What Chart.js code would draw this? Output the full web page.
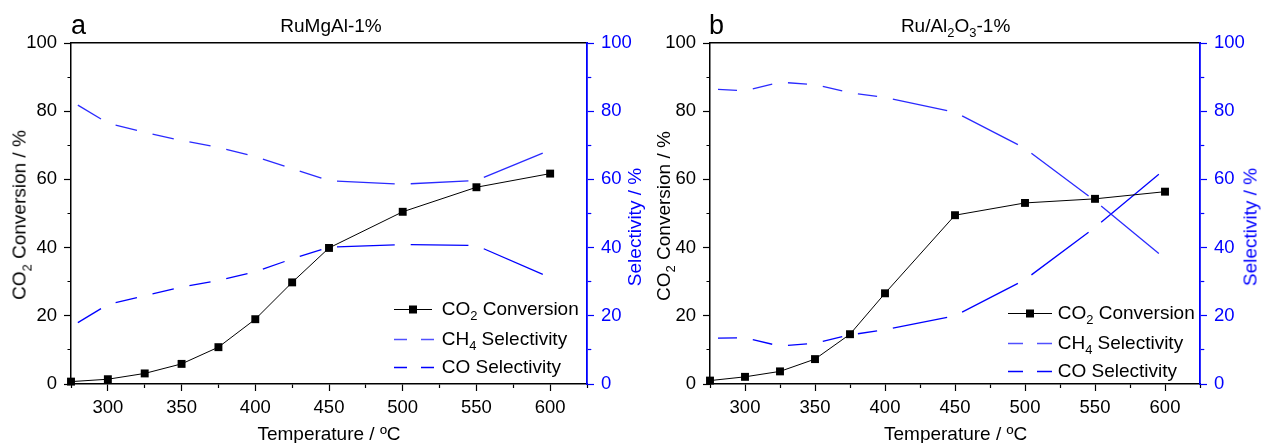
<!DOCTYPE html>
<html>
<head>
<meta charset="utf-8">
<script src="https://cdn.jsdelivr.net/npm/chart.js@4/dist/chart.umd.min.js"></script>
<style>
body { margin: 0; background: #fff; width: 1261px; height: 443px; overflow: hidden; position: relative;
       font-family: "Liberation Sans", Arial, sans-serif; }
canvas { position: absolute; top: 0; }
.t { position: absolute; white-space: nowrap; line-height: 1; color: #000; font-size: 19px; }
.c { transform: translate(-50%, -50%); }
.r { transform: translate(-50%, -50%) rotate(-90deg); }
.l { transform: translateY(-50%); }
.blue { color: #0000ff; }
sub { font-size: 0.68em; vertical-align: -0.45em; line-height: 0; }
</style>
</head>
<body>
<canvas id="chartA" width="660" height="443" style="left:0"></canvas>
<canvas id="chartB" width="631" height="443" style="left:630px"></canvas>

<!-- panel a texts -->
<div class="t" style="left:71px;top:12px;font-size:27px">a</div>
<div class="t c" style="left:331px;top:25px">RuMgAl-1%</div>
<div class="t r" style="left:19px;top:215px">CO<sub>2</sub> Conversion / %</div>
<div class="t r blue" style="left:634px;top:227px">Selectivity / %</div>
<div class="t c" style="left:329px;top:433px">Temperature / &ordm;C</div>
<div class="t l" style="left:394px;top:308px"><svg width="38" height="10"><line x1="0" y1="5" x2="38" y2="5" stroke="#000" stroke-width="1"/><rect x="15" y="1" width="8" height="8" fill="#000"/></svg></div>
<div class="t l" style="left:441.7px;top:308px">CO<sub>2</sub> Conversion</div>
<div class="t l" style="left:394px;top:338px"><svg width="40" height="10"><line x1="0" y1="5" x2="13" y2="5" stroke="#5050ff" stroke-width="1.3"/><line x1="27" y1="5" x2="40" y2="5" stroke="#5050ff" stroke-width="1.3"/></svg></div>
<div class="t l" style="left:441.7px;top:338px">CH<sub>4</sub> Selectivity</div>
<div class="t l" style="left:394px;top:366px"><svg width="40" height="10"><line x1="0" y1="5" x2="13" y2="5" stroke="#0000ff" stroke-width="1.3"/><line x1="27" y1="5" x2="40" y2="5" stroke="#0000ff" stroke-width="1.3"/></svg></div>
<div class="t l" style="left:441.7px;top:366px">CO Selectivity</div>

<!-- panel b texts -->
<div class="t" style="left:709px;top:12px;font-size:27px">b</div>
<div class="t c" style="left:955.6px;top:25px">Ru/Al<sub>2</sub>O<sub>3</sub>-1%</div>
<div class="t r" style="left:663px;top:216px">CO<sub>2</sub> Conversion / %</div>
<div class="t r blue" style="left:1250px;top:227px">Selectivity / %</div>
<div class="t c" style="left:955.6px;top:433px">Temperature / &ordm;C</div>
<div class="t l" style="left:1008px;top:312px"><svg width="44" height="10"><line x1="0" y1="5" x2="44" y2="5" stroke="#000" stroke-width="1"/><rect x="18" y="1" width="8" height="8" fill="#000"/></svg></div>
<div class="t l" style="left:1057.7px;top:312px">CO<sub>2</sub> Conversion</div>
<div class="t l" style="left:1008px;top:342px"><svg width="44" height="10"><line x1="0" y1="5" x2="15" y2="5" stroke="#5050ff" stroke-width="1.3"/><line x1="29" y1="5" x2="44" y2="5" stroke="#5050ff" stroke-width="1.3"/></svg></div>
<div class="t l" style="left:1057.7px;top:342px">CH<sub>4</sub> Selectivity</div>
<div class="t l" style="left:1008px;top:370px"><svg width="44" height="10"><line x1="0" y1="5" x2="15" y2="5" stroke="#0000ff" stroke-width="1.3"/><line x1="29" y1="5" x2="44" y2="5" stroke="#0000ff" stroke-width="1.3"/></svg></div>
<div class="t l" style="left:1057.7px;top:370px">CO Selectivity</div>

<script>
// panel a: RuMgAl-1%
var tempsA = [275, 300, 325, 350, 375, 400, 425, 450, 500, 550, 600];
var convA  = [0.7, 1.4, 3.1, 5.9, 10.8, 19.0, 29.8, 39.9, 50.5, 57.7, 61.7];
var ch4A   = [83.0, 76.5, 73.8, 71.4, 69.4, 66.7, 63.2, 59.6, 58.6, 59.7, 68.6];
var coA    = [16.8, 23.3, 25.9, 28.4, 30.4, 32.9, 36.7, 40.1, 40.9, 40.6, 31.2];

// panel b: Ru/Al2O3-1%
var tempsB = [275, 300, 325, 350, 375, 400, 450, 500, 550, 600];
var convB  = [1.0, 2.1, 3.7, 7.3, 14.6, 26.6, 49.5, 53.1, 54.3, 56.4];
var ch4B   = [86.5, 86.0, 88.5, 87.8, 85.4, 84.0, 79.7, 69.1, 53.7, 36.8];
var coB    = [13.4, 13.6, 11.1, 12.0, 14.4, 15.9, 20.0, 30.6, 45.9, 63.0];

var xTickLabels = [300, 350, 400, 450, 500, 550, 600];
var yTickLabels = [0, 20, 40, 60, 80, 100];

var BLUE = '#0000ff';
var GAP = 8; // line is broken around each (hidden) point, like Origin

function pts(xs, ys) {
    return xs.map(function(x, i) { return {x: x, y: ys[i]}; });
}

// dash each segment so it stops short of both end points
function gapDash(ctx) {
    var dx = ctx.p1.x - ctx.p0.x, dy = ctx.p1.y - ctx.p0.y;
    var len = Math.sqrt(dx * dx + dy * dy);
    return [0, GAP, Math.max(len - 2 * GAP, 0), 1000 + ctx.p0DataIndex];
}

// minor ticks are half length; left axis ticks are drawn outer->axis
function tickDash(labels, fromOuter) {
    return function(c) {
        if (!c.tick || labels.indexOf(c.tick.value) >= 0) return [];
        return fromOuter ? [0, 3.5, 3.5, 100] : [3.5, 100];
    };
}

function makeChart(id, temps, conv, ch4, co, leftW, rightW) {
    var font = {family: '"Liberation Sans", Arial, sans-serif', size: 18.5};
    return new Chart(document.getElementById(id), {
        type: 'line',
        data: {
            datasets: [{
                label: 'CO2 Conversion',
                data: pts(temps, conv),
                yAxisID: 'y',
                borderColor: '#000',
                borderWidth: 1,
                pointStyle: 'rect',
                pointRadius: 5.6,
                pointBackgroundColor: '#000',
                pointBorderWidth: 0,
                clip: false
            }, {
                label: 'CH4 Selectivity',
                data: pts(temps, ch4),
                yAxisID: 'y2',
                borderColor: '#2a2aff',
                borderWidth: 1.3,
                pointRadius: 0,
                segment: {borderDash: gapDash}
            }, {
                label: 'CO Selectivity',
                data: pts(temps, co),
                yAxisID: 'y2',
                borderColor: BLUE,
                borderWidth: 1.3,
                pointRadius: 0,
                segment: {borderDash: gapDash}
            }]
        },
        options: {
            responsive: false,
            animation: false,
            layout: {padding: {top: 43, left: 0, right: 0, bottom: 0}},
            plugins: {legend: {display: false}, tooltip: {enabled: false}},
            scales: {
                x: {
                    type: 'linear', position: 'bottom', min: 275, max: 625,
                    afterFit: function(s) { s.height = 59; },
                    ticks: {
                        stepSize: 25, autoSkip: false, maxRotation: 0, padding: 6,
                        color: '#000', font: font,
                        callback: function(v) { return xTickLabels.indexOf(v) >= 0 ? String(v) : ''; }
                    },
                    grid: {drawOnChartArea: false, tickLength: 7, tickWidth: 1.2, tickColor: '#000',
                           tickBorderDash: tickDash(xTickLabels, false)},
                    border: {display: true, color: '#000', width: 1.5}
                },
                xTop: {
                    type: 'linear', position: 'top', min: 275, max: 625,
                    afterFit: function(s) { s.height = 0; },
                    ticks: {display: false},
                    grid: {display: false},
                    border: {display: true, color: '#000', width: 1.5}
                },
                y: {
                    type: 'linear', position: 'left', min: 0, max: 100,
                    afterFit: function(s) { s.width = leftW; },
                    ticks: {
                        stepSize: 10, autoSkip: false, padding: 7, color: '#000', font: font,
                        callback: function(v) { return yTickLabels.indexOf(v) >= 0 ? String(v) : ''; }
                    },
                    grid: {drawOnChartArea: false, tickLength: 7, tickWidth: 1.2, tickColor: '#000',
                           tickBorderDash: tickDash(yTickLabels, true)},
                    border: {display: true, color: '#000', width: 1.5}
                },
                y2: {
                    type: 'linear', position: 'right', min: 0, max: 100,
                    afterFit: function(s) { s.width = rightW; },
                    ticks: {
                        stepSize: 10, autoSkip: false, padding: 7, color: BLUE, font: font,
                        callback: function(v) { return yTickLabels.indexOf(v) >= 0 ? String(v) : ''; }
                    },
                    grid: {drawOnChartArea: false, tickLength: 7, tickWidth: 1.2, tickColor: BLUE,
                           tickBorderDash: tickDash(yTickLabels, false)},
                    border: {display: true, color: BLUE, width: 1.8}
                }
            }
        }
    });
}

makeChart('chartA', tempsA, convA, ch4A, coA, 71, 73);
makeChart('chartB', tempsB, convB, ch4B, coB, 80, 61);
</script>
</body>
</html>
